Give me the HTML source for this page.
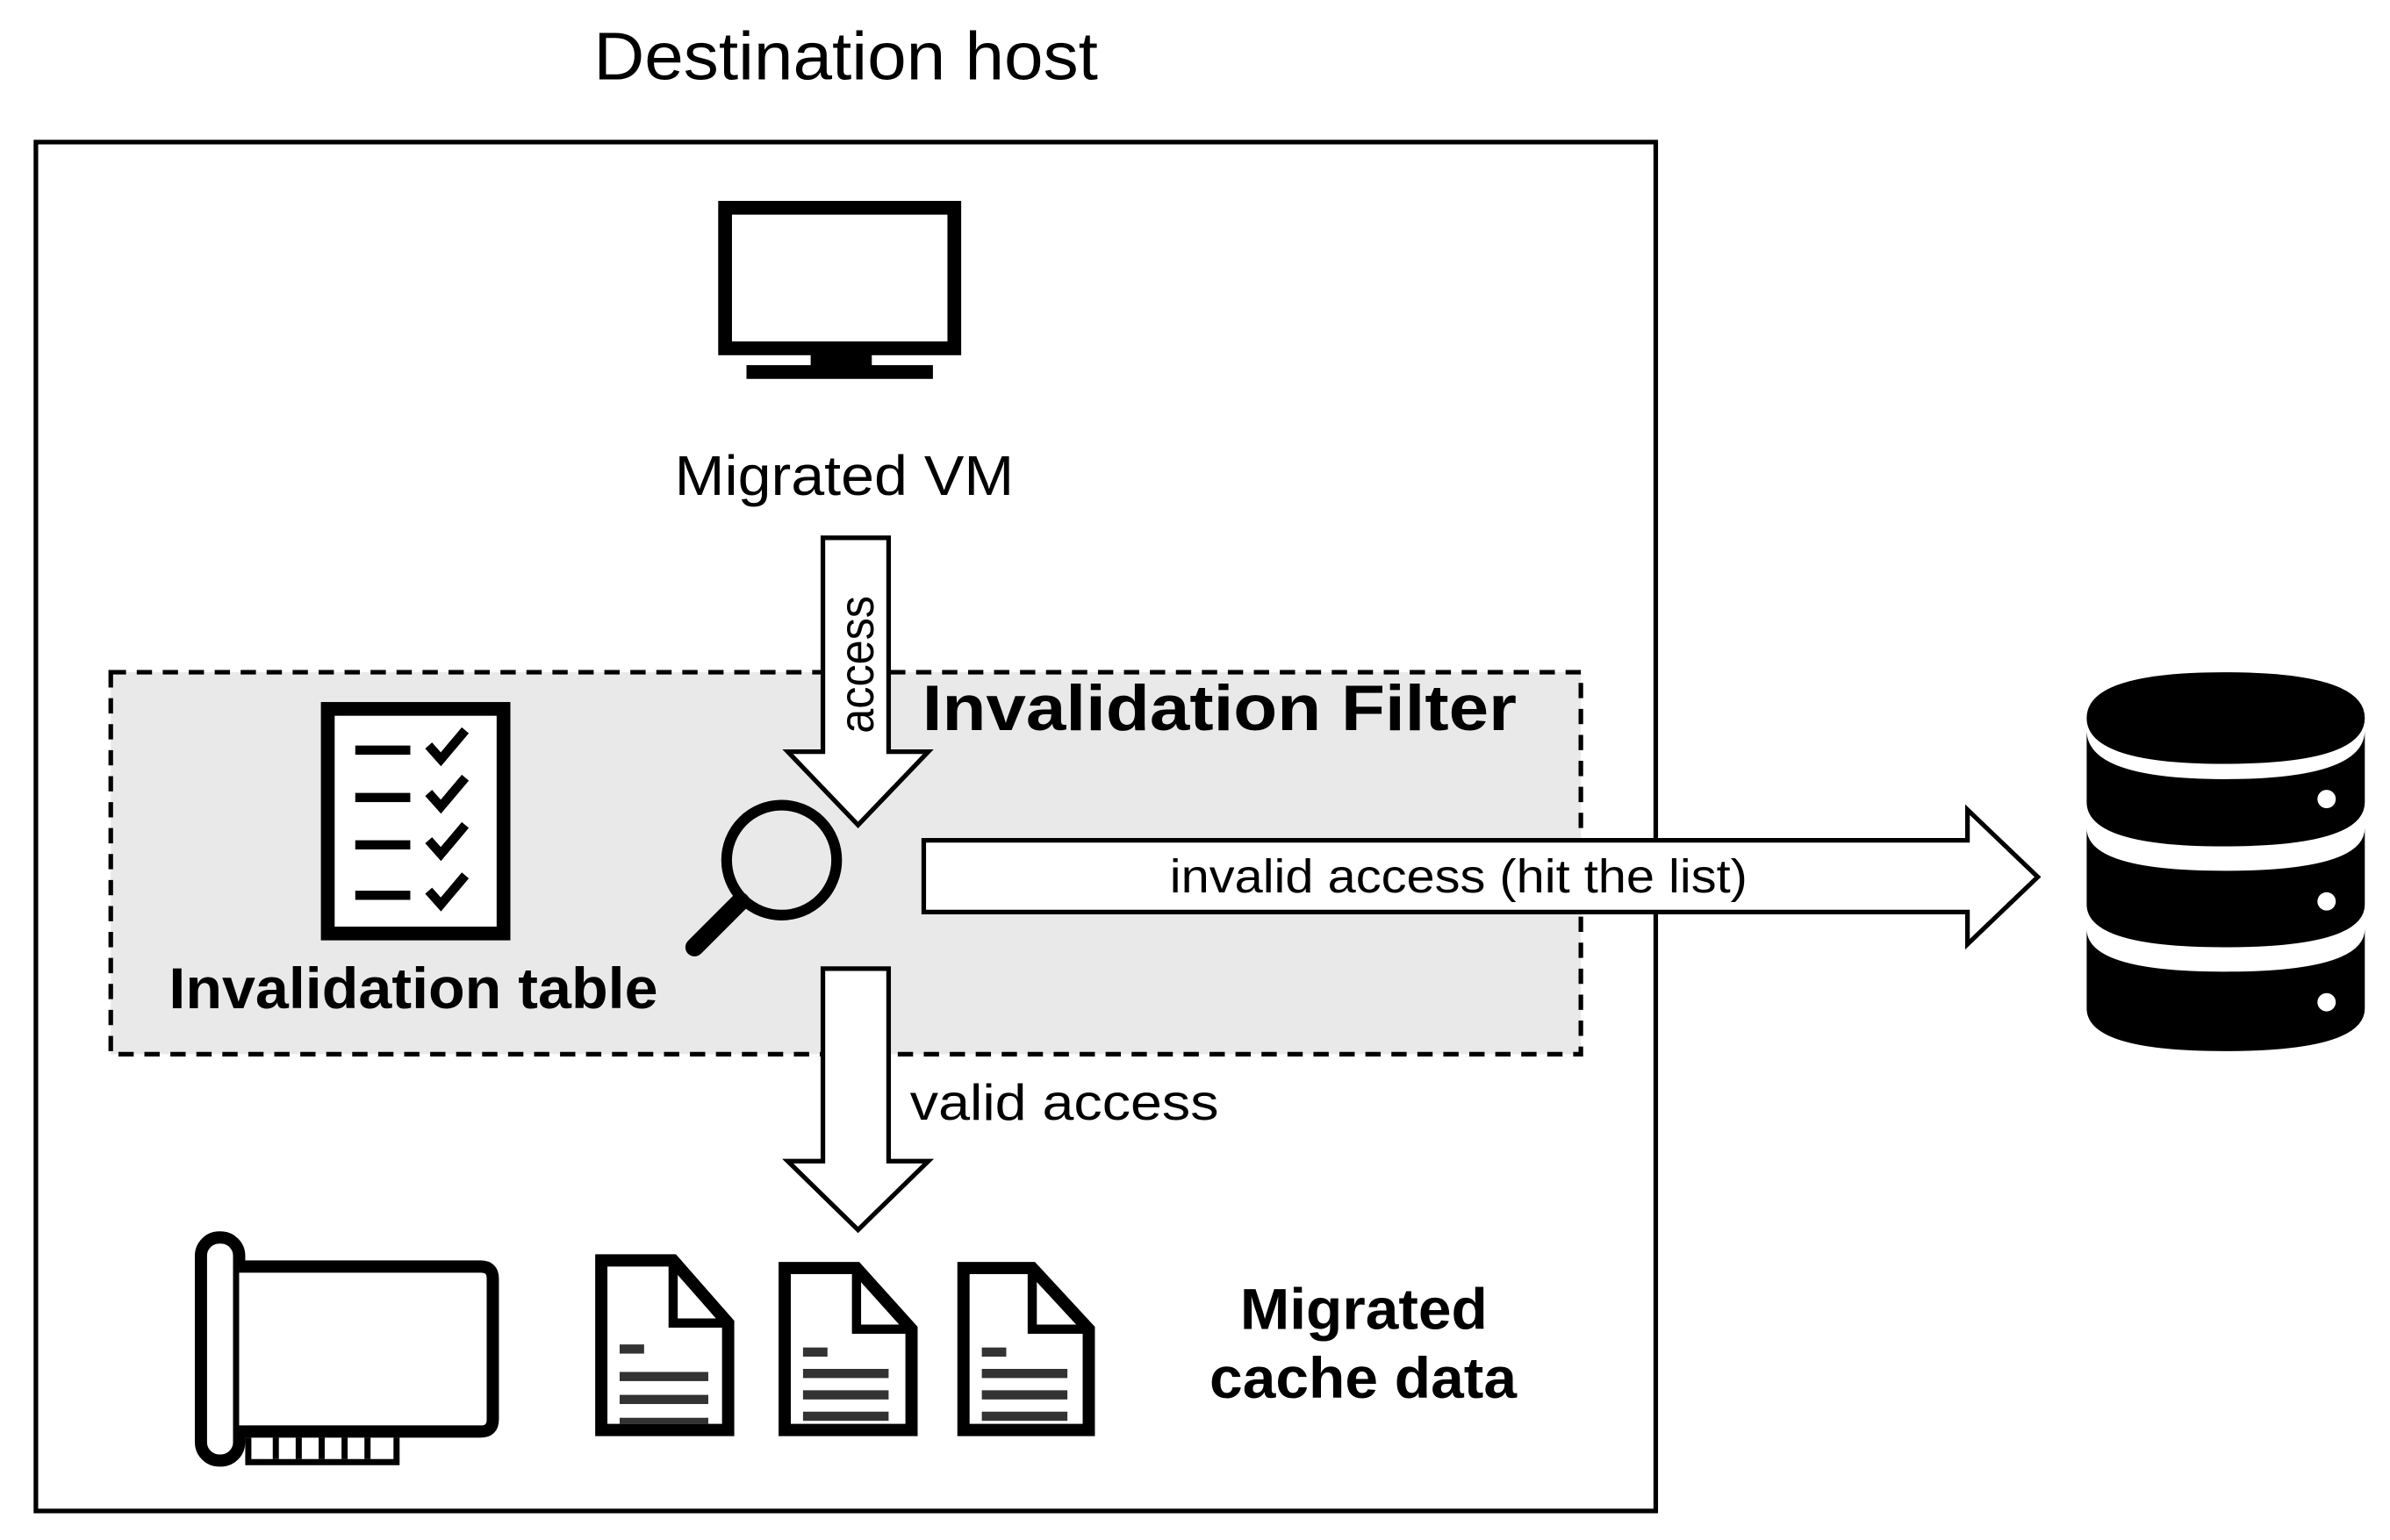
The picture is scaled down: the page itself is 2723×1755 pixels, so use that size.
<!DOCTYPE html>
<html><head><meta charset="utf-8"><style>
html,body{margin:0;padding:0;background:#fff;}
svg{display:block;}
text{font-family:"Liberation Sans",sans-serif;fill:#000;}
</style></head><body>
<svg width="2723" height="1755" viewBox="0 0 1563 1008" xmlns="http://www.w3.org/2000/svg">
<rect width="1563" height="1008" fill="#fff"/>
<text x="388" y="52" font-size="44" textLength="330" lengthAdjust="spacingAndGlyphs">Destination host</text>
<rect x="23" y="93" width="1060" height="896" fill="none" stroke="#000" stroke-width="3"/>
<!-- monitor -->
<rect x="474" y="136" width="150" height="92" fill="#fff" stroke="#000" stroke-width="9"/>
<rect x="530" y="230" width="40" height="10" fill="#000"/>
<rect x="488" y="239" width="122" height="9" fill="#000"/>
<text x="441" y="324" font-size="37" textLength="222" lengthAdjust="spacingAndGlyphs">Migrated VM</text>
<!-- filter box -->
<rect x="72" y="440" width="962" height="250" fill="#e9e9e9" stroke="#000" stroke-width="3" stroke-dasharray="10,7"/>
<!-- access arrow -->
<polygon points="538,352 581,352 581,492 607,492 561,540 515,492 538,492" fill="#fff" stroke="#000" stroke-width="3"/>
<text x="0" y="0" font-size="32" text-anchor="middle" transform="translate(571,435) rotate(-90)" textLength="90" lengthAdjust="spacingAndGlyphs">access</text>
<text x="603" y="478" font-size="42" font-weight="bold" textLength="389" lengthAdjust="spacingAndGlyphs">Invalidation Filter</text>
<!-- checklist -->
<rect x="214" y="464" width="115" height="147" fill="#fff" stroke="#000" stroke-width="9"/>
<g fill="#000">
<rect x="232" y="488" width="36" height="6"/><rect x="232" y="519" width="36" height="6"/>
<rect x="232" y="550" width="36" height="6"/><rect x="232" y="583" width="36" height="6"/>
</g>
<g fill="none" stroke="#000" stroke-width="6">
<polyline points="280,488 288,497 304,478"/><polyline points="280,519 288,528 304,509"/>
<polyline points="280,550 288,559 304,540"/><polyline points="280,583 288,592 304,573"/>
</g>
<!-- magnifier -->
<circle cx="511" cy="563" r="36" fill="none" stroke="#000" stroke-width="7"/>
<line x1="484" y1="590" x2="454" y2="620" stroke="#000" stroke-width="12" stroke-linecap="round"/>
<text x="110" y="660" font-size="38" font-weight="bold" textLength="320" lengthAdjust="spacingAndGlyphs">Invalidation table</text>
<!-- right arrow -->
<polygon points="604,550 1287,550 1287,530 1333,574 1287,618 1287,597 604,597" fill="#fff" stroke="#000" stroke-width="3"/>
<text x="765" y="584" font-size="31" textLength="378" lengthAdjust="spacingAndGlyphs">invalid access (hit the list)</text>
<!-- valid arrow -->
<polygon points="538,634 581,634 581,760 607,760 561,805 515,760 538,760" fill="#fff" stroke="#000" stroke-width="3"/>
<text x="595" y="733" font-size="33" textLength="202" lengthAdjust="spacingAndGlyphs">valid access</text>
<!-- database -->
<g fill="#000">
<path d="M1365,470 Q1365,440 1455,440 Q1547,440 1547,470 Q1547,500 1455,500 Q1365,500 1365,470Z"/>
<path d="M1365,478 Q1365,510 1455,510 Q1547,510 1547,478 L1547,525 Q1547,554 1455,554 Q1365,554 1365,525Z"/>
<path d="M1365,542 Q1365,570 1455,570 Q1547,570 1547,542 L1547,592 Q1547,620 1455,620 Q1365,620 1365,592Z"/>
<path d="M1365,608 Q1365,636 1455,636 Q1547,636 1547,608 L1547,660 Q1547,688 1455,688 Q1365,688 1365,660Z"/>
</g>
<g fill="#fff"><circle cx="1522" cy="523" r="6"/><circle cx="1522" cy="590" r="6"/><circle cx="1522" cy="656" r="6"/></g>
<!-- card -->
<rect x="131" y="810" width="25" height="146" rx="12" fill="#fff" stroke="#000" stroke-width="8"/>
<path d="M156,829 L314,829 Q322,829 322,837 L322,929 Q322,937 314,937 L156,937" fill="#fff" stroke="#000" stroke-width="8"/>
<path d="M162,941 L162,957 L259,957 L259,941" fill="none" stroke="#000" stroke-width="4"/>
<g fill="#000"><rect x="178" y="941" width="4" height="14"/><rect x="193" y="941" width="4" height="14"/><rect x="208" y="941" width="4" height="14"/><rect x="223" y="941" width="4" height="14"/><rect x="238" y="941" width="4" height="14"/></g>
<!-- docs -->
<g fill="#fff" stroke="#000" stroke-width="8">
<path d="M393,825 L440,825 L476,866 L476,936 L393,936Z"/>
<path d="M513,830 L560,830 L596,870 L596,936 L513,936Z"/>
<path d="M630,830 L675,830 L712,870 L712,936 L630,936Z"/>
</g>
<g fill="none" stroke="#000" stroke-width="6">
<polyline points="440,825 440,866 476,866"/><polyline points="560,830 560,870 596,870"/><polyline points="675,830 675,870 712,870"/>
</g>
<g fill="#333">
<rect x="405" y="880" width="16" height="6"/><rect x="405" y="898" width="58" height="6"/><rect x="405" y="913" width="58" height="6"/><rect x="405" y="928" width="58" height="4"/>
<rect x="525" y="882" width="16" height="6"/><rect x="525" y="896" width="56" height="6"/><rect x="525" y="910" width="56" height="6"/><rect x="525" y="924" width="56" height="6"/>
<rect x="642" y="882" width="16" height="6"/><rect x="642" y="896" width="56" height="6"/><rect x="642" y="910" width="56" height="6"/><rect x="642" y="924" width="56" height="6"/>
</g>
<text x="811" y="870" font-size="38" font-weight="bold" textLength="162" lengthAdjust="spacingAndGlyphs">Migrated</text>
<text x="791" y="915" font-size="38" font-weight="bold" textLength="201" lengthAdjust="spacingAndGlyphs">cache data</text>
</svg>
</body></html>
